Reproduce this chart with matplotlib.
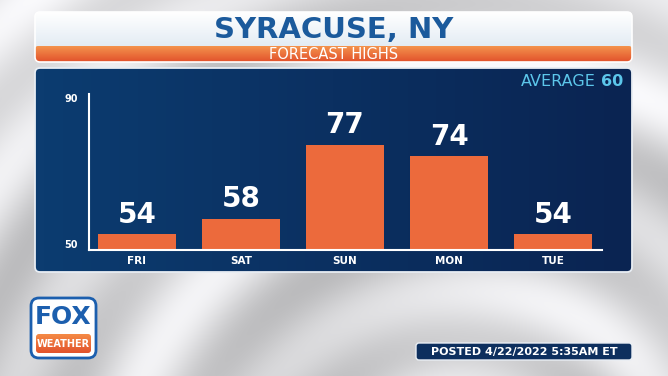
import numpy as np
import matplotlib
matplotlib.use("Agg")
import matplotlib.pyplot as plt
from matplotlib.patches import FancyBboxPatch

days = ["FRI", "SAT", "SUN", "MON", "TUE"]
highs = [54, 58, 77, 74, 54]
y_ticks = [50, 90]
title = "SYRACUSE, NY"
subtitle = "FORECAST HIGHS"
average = 60
posted = "POSTED 4/22/2022 5:35AM ET"

plt.rcParams['font.family'] = ['DejaVu Sans']

W, H = 668, 376
fig = plt.figure(figsize=(W / 100, H / 100), dpi=100)

# background layer in pixel coordinates
bg = fig.add_axes([0, 0, 1, 1])
bg.set_xlim(0, W)
bg.set_ylim(H, 0)
bg.axis("off")

yy, xx = np.mgrid[0:H, 0:W]
r = np.hypot(xx - 520, yy - 520)
ang = np.arctan2(yy - 520, xx - 520)
tex = 0.83 + 0.07 * np.sin(r / 18 + 3 * ang) + 0.05 * np.cos(r / 41 - ang)
tex = np.clip(tex + 0.05 * (1 - yy / H), 0.6, 0.98)
bg.imshow(np.dstack([tex, tex, tex * 1.01]).clip(0, 1), extent=(0, W, H, 0), zorder=0)

def grad_box(x0, y0, x1, y1, c_top, c_bot, horizontal=False, z=1, rad=4, edge=None, lw=0):
    n = 64
    t = np.linspace(0, 1, n)
    c0 = np.array(matplotlib.colors.to_rgb(c_top))
    c1 = np.array(matplotlib.colors.to_rgb(c_bot))
    g = c0[None, :] * (1 - t[:, None]) + c1[None, :] * t[:, None]
    img = g[None, :, :] if horizontal else g[:, None, :]
    patch = FancyBboxPatch((x0, y0), x1 - x0, y1 - y0,
                           boxstyle=f"round,pad=0,rounding_size={rad}",
                           facecolor="none", edgecolor=edge if edge else "none",
                           linewidth=lw, zorder=z + 0.1)
    bg.add_patch(patch)
    im = bg.imshow(img, extent=(x0, x1, y1, y0), aspect="auto", zorder=z)
    im.set_clip_path(patch)

# title box
grad_box(35, 12, 632, 62, "#ffffff", "#d6e3ee", z=2, rad=5)
grad_box(35, 46, 632, 62, "#f4934c", "#e2512c", z=3, rad=3)
bg.add_patch(FancyBboxPatch((35, 12), 597, 50, boxstyle="round,pad=0,rounding_size=5",
                            facecolor="none", edgecolor="white", linewidth=1.2, zorder=4))
bg.text(333.5, 30, title, ha="center", va="center", fontsize=21, fontweight="bold",
        color="#1b5a9c", zorder=5)
bg.text(333.5, 54.5, subtitle, ha="center", va="center", fontsize=10.5,
        color="white", zorder=5)

# chart panel
grad_box(35, 68, 632, 272, "#0c3c70", "#0a2452", horizontal=True, z=2, rad=5)
bg.add_patch(FancyBboxPatch((35, 68), 597, 204, boxstyle="round,pad=0,rounding_size=5",
                            facecolor="none", edgecolor="#e8edf3", linewidth=1.3, zorder=4))
bg.text(596, 81, "AVERAGE", ha="right", va="center", fontsize=11.5,
        color="#5cc6ea", zorder=5)
bg.text(623, 81, str(average), ha="right", va="center", fontsize=11.5, fontweight="bold",
        color="#5cc6ea", zorder=5)

# logo
grad_box(31, 298, 96, 358, "#ffffff", "#ffffff", z=2, rad=8, edge="#1c5fae", lw=2)
grad_box(36, 334, 91, 353, "#f58a45", "#e2532c", z=3, rad=3)
bg.text(63.5, 317, "FOX", ha="center", va="center", fontsize=18, fontweight="bold",
        color="#1c5fae", zorder=5)
bg.text(63.5, 344, "WEATHER", ha="center", va="center", fontsize=7, fontweight="bold",
        color="white", zorder=5)

# posted tag
bg.add_patch(FancyBboxPatch((416, 343), 216, 17, boxstyle="round,pad=0,rounding_size=3",
                            facecolor="#0d2f5e", edgecolor="#e9eef4", linewidth=1, zorder=4))
bg.text(524, 351.5, posted, ha="center", va="center", fontsize=8, fontweight="bold",
        color="white", zorder=5)

# bar chart
ax = fig.add_axes([89 / W, 1 - 250 / H, 513 / W, 156 / H])
ax.patch.set_alpha(0)
x = np.arange(len(days))
ax.bar(x, highs, width=0.75, color="#ec6a3c", bottom=0, zorder=2)
ax.set_ylim(y_ticks[0], y_ticks[-1])
ax.set_xlim(-0.46, len(days) - 1 + 0.47)
for xi, v in zip(x, highs):
    ax.annotate(str(v), (xi, v), xytext=(0, 4), textcoords="offset points",
                ha="center", va="bottom", fontsize=20, fontweight="bold", color="white")
for s in ["top", "right"]:
    ax.spines[s].set_visible(False)
for s in ["left", "bottom"]:
    ax.spines[s].set_color("white")
    ax.spines[s].set_linewidth(1.5)
ax.set_xticks(x)
ax.set_xticklabels(days, fontsize=7.5, fontweight="bold", color="white")
ax.set_yticks(y_ticks)
ax.set_yticklabels([str(t) for t in y_ticks], fontsize=7, fontweight="bold", color="white")
ax.tick_params(axis="both", length=0)
ax.tick_params(axis="y", pad=8)
ax.tick_params(axis="x", pad=4)
labs = ax.get_yticklabels()
labs[0].set_va("bottom")
labs[-1].set_va("top")

fig.savefig("out.png", dpi=100)
